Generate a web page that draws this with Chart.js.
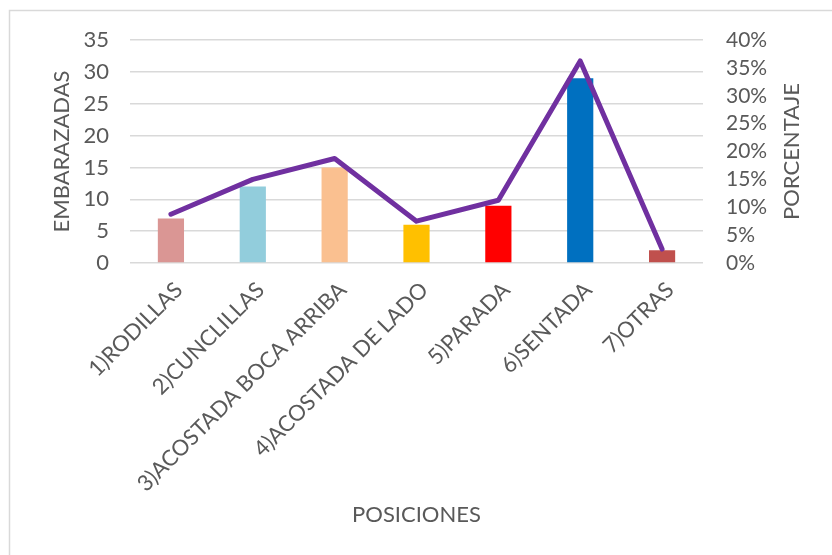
<!DOCTYPE html>
<html>
<head>
<meta charset="utf-8">
<script src="https://cdn.jsdelivr.net/npm/chart.js@4.4.0/dist/chart.umd.min.js"></script>
<style>
  html, body { margin: 0; padding: 0; background: #fff; }
  #wrap { width: 832px; height: 555px; position: relative; }
</style>
</head>
<body>
<div id="wrap"><canvas id="chart"></canvas></div>
<script>
// data
var posiciones = ["1)RODILLAS", "2)CUNCLILLAS", "3)ACOSTADA BOCA ARRIBA", "4)ACOSTADA DE LADO", "5)PARADA", "6)SENTADA", "7)OTRAS"];
var embarazadas = [7, 12, 15, 6, 9, 29, 2];
var porcentaje = [8.75, 15, 18.75, 7.5, 11.25, 36.25, 2.5];
var barColors = ["#DA9694", "#92CDDC", "#FAC090", "#FFC000", "#FF0000", "#0070C0", "#C0504D"];

var txt = "#595959";
var fam = "Lato, 'Open Sans', sans-serif";
var fsize = 22;

// only the left and top edges of the chart frame are visible
var frame = {
    id: "frame",
    beforeDraw: function (c) {
        var g = c.ctx;
        g.save();
        g.strokeStyle = "#d9d9d9";
        g.lineWidth = 1.5;
        g.beginPath();
        g.moveTo(9.5, 555);
        g.lineTo(9.5, 10.5);
        g.lineTo(832, 10.5);
        g.stroke();
        g.restore();
    }
};

// right axis title reads bottom-to-top like the left one
var rightTitle = {
    id: "rightTitle",
    afterDraw: function (c) {
        var g = c.ctx, a = c.chartArea;
        g.save();
        g.translate(792, (a.top + a.bottom) / 2);
        g.rotate(-Math.PI / 2);
        g.fillStyle = txt;
        g.font = fsize + "px " + fam;
        g.textAlign = "center";
        g.textBaseline = "middle";
        g.fillText("PORCENTAJE", 0, 0);
        g.restore();
    }
};

new Chart(document.getElementById("chart"), {
    data: {
        labels: posiciones,
        datasets: [
            {
                type: "line",
                label: "PORCENTAJE",
                data: porcentaje,
                yAxisID: "y1",
                borderColor: "#7030A0",
                borderWidth: 5,
                pointRadius: 0,
                tension: 0,
                borderCapStyle: "round",
                borderJoinStyle: "round",
                order: 0
            },
            {
                type: "bar",
                label: "EMBARAZADAS",
                data: embarazadas,
                yAxisID: "y",
                backgroundColor: barColors,
                barPercentage: 0.32,
                categoryPercentage: 1,
                order: 1
            }
        ]
    },
    options: {
        responsive: true,
        maintainAspectRatio: false,
        animation: false,
        layout: { padding: { top: 40, left: 0, right: 0, bottom: 0 } },
        plugins: { legend: { display: false }, tooltip: { enabled: false } },
        scales: {
            x: {
                grid: { display: false },
                border: { display: false },
                ticks: {
                    color: txt,
                    font: { family: fam, size: fsize },
                    minRotation: 45,
                    maxRotation: 45,
                    padding: 6,
                    labelOffset: 8,
                    autoSkip: false
                },
                title: {
                    display: true,
                    text: "POSICIONES",
                    color: txt,
                    font: { family: fam, size: fsize },
                    padding: { top: 0, bottom: 27 }
                },
                afterFit: function (s) { s.height = 292; }
            },
            y: {
                position: "left",
                min: 0,
                max: 35,
                ticks: {
                    stepSize: 5,
                    autoSkip: false,
                    color: txt,
                    font: { family: fam, size: fsize },
                    padding: 21
                },
                grid: { color: "#d9d9d9", lineWidth: 1.5, drawTicks: false },
                border: { display: false },
                title: {
                    display: true,
                    text: "EMBARAZADAS",
                    color: txt,
                    font: { family: fam, size: fsize },
                    padding: { top: 49, bottom: 0 }
                },
                afterFit: function (s) { s.width = 130; }
            },
            y1: {
                position: "right",
                min: 0,
                max: 40,
                ticks: {
                    stepSize: 5,
                    autoSkip: false,
                    color: txt,
                    font: { family: fam, size: fsize - 1 },
                    padding: 23,
                    callback: function (v) { return v + "%"; }
                },
                grid: { display: false, drawTicks: false },
                border: { display: false },
                title: { display: false },
                afterFit: function (s) { s.width = 129; }
            }
        }
    },
    plugins: [frame, rightTitle]
});
</script>
</body>
</html>
